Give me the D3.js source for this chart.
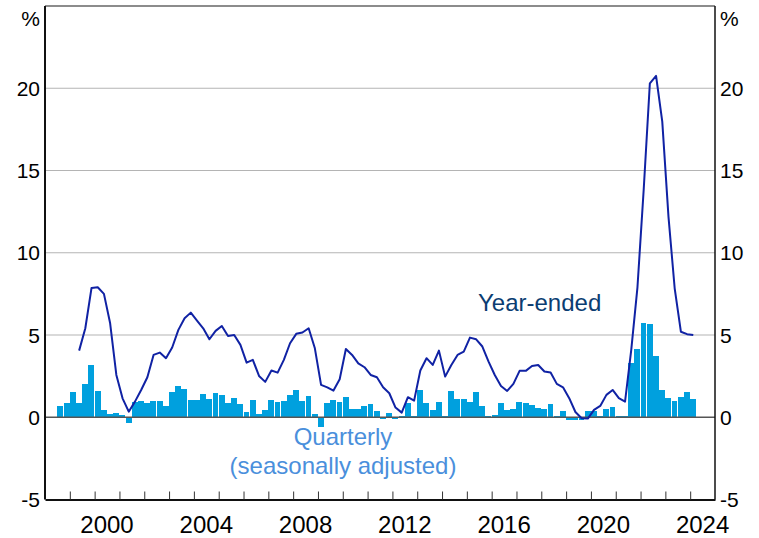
<!DOCTYPE html>
<html>
<head>
<meta charset="utf-8">
<script src="https://cdn.jsdelivr.net/npm/d3@7"></script>
<style>
  html, body { margin: 0; padding: 0; background: #fff; }
  svg { display: block; font-family: "Liberation Sans", Arial, sans-serif; }
</style>
</head>
<body>
<svg id="chart" width="759" height="538"></svg>
<script>
// ---- Data (quarterly, first bar = 1998 Q3; first year-ended = 1999 Q2) ----
const quarterlyStart = [1998, 3];
const quarterlyValues = [
  0.69, 0.87,
  1.54, 0.87, 2.03, 3.18,
  1.60, 0.45, 0.20, 0.26,
  0.14, -0.32, 0.93, 1.00,
  0.87, 1.00, 1.00, 0.69,
  1.54, 1.90, 1.72, 1.05,
  1.05, 1.42, 1.11, 1.48,
  1.36, 0.87, 1.17, 0.81,
  0.32, 1.05, 0.20, 0.45,
  1.05, 0.93, 1.00, 1.36,
  1.66, 1.00, 1.30, 0.20,
  -0.57, 0.87, 1.05, 0.93,
  1.24, 0.50, 0.50, 0.69,
  0.81, 0.38, -0.10, 0.26,
  -0.10, 0.08, 0.87, 0.08,
  1.66, 0.87, 0.45, 0.93,
  0.08, 1.60, 1.11, 1.11,
  0.93, 1.54, 0.69, 0.08,
  0.14, 0.87, 0.45, 0.51,
  0.93, 0.87, 0.75, 0.57,
  0.51, 0.81, 0.08, 0.38,
  -0.18, -0.18, -0.18, 0.38,
  0.38, 0.08, 0.51, 0.63,
  0.05, 0.05, 3.32, 4.15,
  5.75, 5.69, 3.73, 1.66,
  1.17, 0.99, 1.24, 1.54,
  1.11
];
const yearEndedStart = [1999, 2];
const yearEndedValues = [
  4.05, 5.41, 7.86,
  7.90, 7.50, 5.71, 2.57,
  1.15, 0.34, 0.95, 1.66,
  2.43, 3.79, 3.93, 3.59,
  4.24, 5.31, 6.02, 6.36,
  5.88, 5.41, 4.74, 5.25,
  5.55, 4.94, 5.00, 4.40,
  3.32, 3.49, 2.51, 2.15,
  2.84, 2.71, 3.49, 4.50,
  5.07, 5.15, 5.41, 4.19,
  1.97, 1.82, 1.62, 2.31,
  4.15, 3.79, 3.28, 3.04,
  2.57, 2.43, 1.82, 1.46,
  0.59, 0.28, 1.22, 1.01,
  2.84, 3.59, 3.18, 4.05,
  2.47, 3.18, 3.79, 3.99,
  4.84, 4.74, 4.30, 3.38,
  2.57, 1.90, 1.60, 2.03,
  2.82, 2.82, 3.12, 3.18,
  2.78, 2.72, 2.03, 1.82,
  1.16, 0.32, -0.06, -0.08,
  0.45, 0.69, 1.36, 1.66,
  1.16, 0.95, 4.10, 7.90,
  13.80, 20.30, 20.75, 17.97,
  12.20, 7.84, 5.20, 5.05,
  5.00
];
const yTicks = [-5, 0, 5, 10, 15, 20];
const gridTicks = [5, 10, 15, 20];
const yearLabels = [2000, 2004, 2008, 2012, 2016, 2020, 2024];
const xDomain = [1998, 2025];
const yDomain = [-5, 25];
const labelYearEnded = "Year-ended";
const labelQuarterly = ["Quarterly", "(seasonally adjusted)"];

// ---- Build quarter records ----
function toRecords(start, values) {
  return values.map((v, i) => {
    const q0 = (start[1] - 1) + i;
    const year = start[0] + Math.floor(q0 / 4);
    const q = q0 % 4;
    const t0 = year + q / 4;
    return { t0: t0, t1: t0 + 0.25, tm: t0 + 0.125, v: v };
  });
}
const bars = toRecords(quarterlyStart, quarterlyValues);
const pts = toRecords(yearEndedStart, yearEndedValues);

// ---- Layout ----
const L = 45, R = 715, T = 6, B = 499.5;
const svg = d3.select("#chart");
const x = d3.scaleLinear().domain(xDomain).range([L, R]);
const y = d3.scaleLinear().domain(yDomain).range([B, T]);

// gridlines
svg.append("g").selectAll("line").data(gridTicks).join("line")
  .attr("x1", L).attr("x2", R)
  .attr("y1", d => y(d)).attr("y2", d => y(d))
  .attr("stroke", "#b4b4b4").attr("stroke-width", 1.2);

// bars
svg.append("g").selectAll("rect").data(bars).join("rect")
  .attr("x", d => x(d.t0))
  .attr("width", d => x(d.t1) - x(d.t0) - 0.3)
  .attr("y", d => Math.min(y(d.v), y(0)))
  .attr("height", d => Math.abs(y(d.v) - y(0)))
  .attr("fill", "#00a0de")
  .attr("shape-rendering", "crispEdges");

// zero line
svg.append("line")
  .attr("x1", L).attr("x2", R).attr("y1", y(0)).attr("y2", y(0))
  .attr("stroke", "#555").attr("stroke-width", 1.5);

// year-ended line
const line = d3.line().x(d => x(d.tm)).y(d => y(d.v));
svg.append("path").datum(pts)
  .attr("d", line)
  .attr("fill", "none")
  .attr("stroke", "#1022a4")
  .attr("stroke-width", 2)
  .attr("stroke-linejoin", "round");

// frame
svg.append("line").attr("x1", L).attr("x2", R).attr("y1", T).attr("y2", T)
  .attr("stroke", "#666").attr("stroke-width", 1.5);
svg.append("line").attr("x1", L).attr("x2", L).attr("y1", T).attr("y2", B)
  .attr("stroke", "#111").attr("stroke-width", 2);
svg.append("line").attr("x1", R).attr("x2", R).attr("y1", T).attr("y2", B)
  .attr("stroke", "#111").attr("stroke-width", 1.5);

// bottom axis with year ticks
const xAxis = d3.axisBottom(x)
  .tickValues(d3.range(xDomain[0] + 1, xDomain[1]))
  .tickSize(-8).tickSizeOuter(0).tickFormat("");
const gx = svg.append("g").attr("transform", `translate(0,${B})`).call(xAxis);
gx.select(".domain").attr("stroke", "#111").attr("stroke-width", 2);
gx.selectAll(".tick line").attr("stroke", "#333").attr("stroke-width", 1);

// year labels centred in the year
svg.append("g").selectAll("text").data(yearLabels).join("text")
  .attr("x", d => x(d + 0.5))
  .attr("y", 533)
  .attr("text-anchor", "middle")
  .attr("font-size", 24)
  .attr("fill", "#000")
  .text(d => d);

// y labels (left & right)
const yl = svg.append("g").attr("font-size", 21).attr("fill", "#000");
yl.selectAll("text.l").data(yTicks).join("text").attr("class", "l")
  .attr("x", 40).attr("y", d => y(d)).attr("dy", "0.36em")
  .attr("text-anchor", "end").text(d => d);
yl.selectAll("text.r").data(yTicks).join("text").attr("class", "r")
  .attr("x", 720).attr("y", d => y(d)).attr("dy", "0.36em")
  .attr("text-anchor", "start").text(d => d);
yl.append("text").attr("x", 40).attr("y", 26).attr("text-anchor", "end").text("%");
yl.append("text").attr("x", 720).attr("y", 26).attr("text-anchor", "start").text("%");

// series labels
svg.append("text").attr("x", 478).attr("y", 311)
  .attr("font-size", 24).attr("fill", "#0b3d72").text(labelYearEnded);
svg.append("g").selectAll("text").data(labelQuarterly).join("text")
  .attr("x", 343).attr("y", (d, i) => 444.5 + i * 29)
  .attr("text-anchor", "middle")
  .attr("font-size", 24).attr("fill", "#4a8fdc").text(d => d);
</script>
</body>
</html>
